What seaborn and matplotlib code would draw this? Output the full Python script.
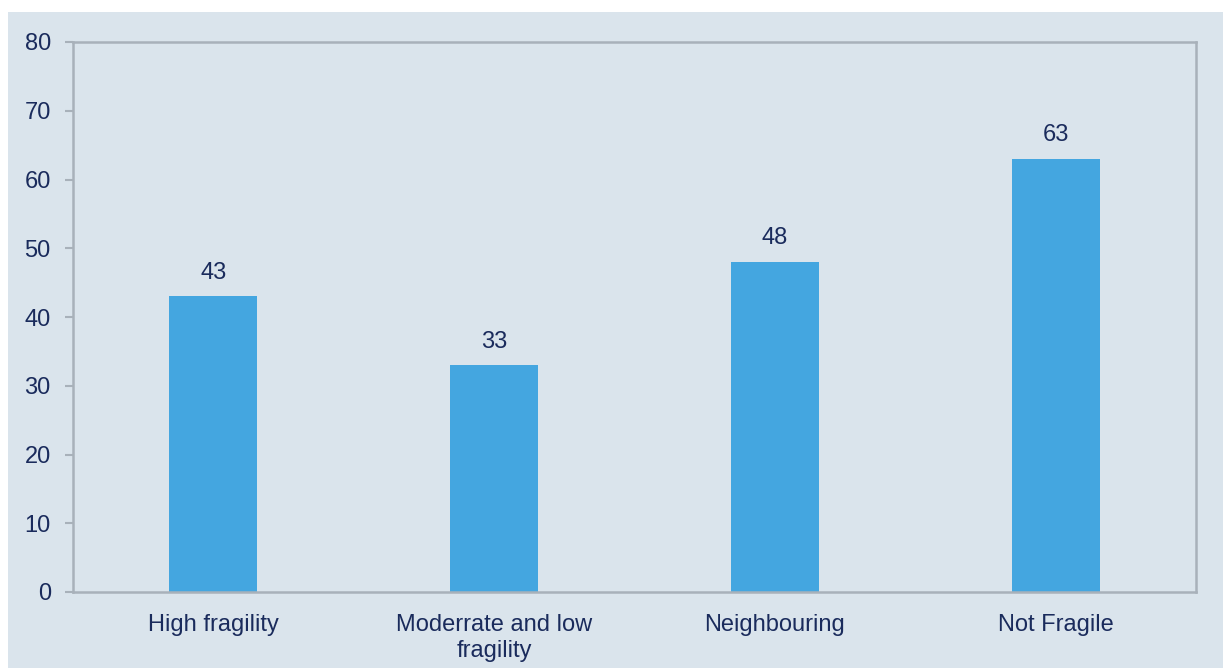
import matplotlib
matplotlib.use("Agg")
import matplotlib.pyplot as plt
import seaborn as sns
import pandas as pd
from matplotlib.patches import Rectangle

categories = ["High fragility", "Moderrate and low\nfragility", "Neighbouring", "Not Fragile"]
values = [43, 33, 48, 63]
y_ticks = [0, 10, 20, 30, 40, 50, 60, 70, 80]

BG = "#DAE4EC"
BAR = "#44A6E0"
TXT = "#1A2B5C"
SPINE = "#A8B1BA"

sns.set_theme(style="white")
plt.rcParams["font.family"] = ["Liberation Sans", "DejaVu Sans"]

fig = plt.figure(figsize=(12.23, 6.68), dpi=100)
fig.patch.set_facecolor("white")
fig.patches.append(Rectangle((8 / 1223, 0), 1 - 8 / 1223, 1 - 12 / 668,
                             transform=fig.transFigure, facecolor=BG,
                             edgecolor="none", zorder=-10))

ax = fig.add_axes([73 / 1223, 1 - 592 / 668, (1196 - 73) / 1223, (592 - 42) / 668])
ax.set_facecolor(BG)

df = pd.DataFrame({"cat": categories, "val": values})
sns.barplot(data=df, x="cat", y="val", color=BAR, width=0.313, ax=ax,
            saturation=1, linewidth=0, edgecolor=BAR)
for c in ax.containers:
    ax.bar_label(c, labels=[str(v) for v in values], padding=9,
                 fontsize=17, color=TXT)

ax.set_ylim(0, 80)
ax.set_yticks(y_ticks)
ax.set_xlim(-0.5, len(categories) - 0.5)
ax.set_xlabel("")
ax.set_ylabel("")

for s in ax.spines.values():
    s.set_visible(True)
    s.set_color(SPINE)
    s.set_linewidth(1.8)

ax.tick_params(axis="y", which="both", left=True, length=6, width=1.5,
               color=SPINE, labelsize=17, labelcolor=TXT, pad=10)
ax.tick_params(axis="x", which="both", bottom=False, labelsize=17,
               labelcolor=TXT, pad=10)
for lbl in ax.get_xticklabels():
    lbl.set_linespacing(1.2)
ax.grid(False)

fig.savefig("out.png", dpi=100, facecolor=fig.get_facecolor())
